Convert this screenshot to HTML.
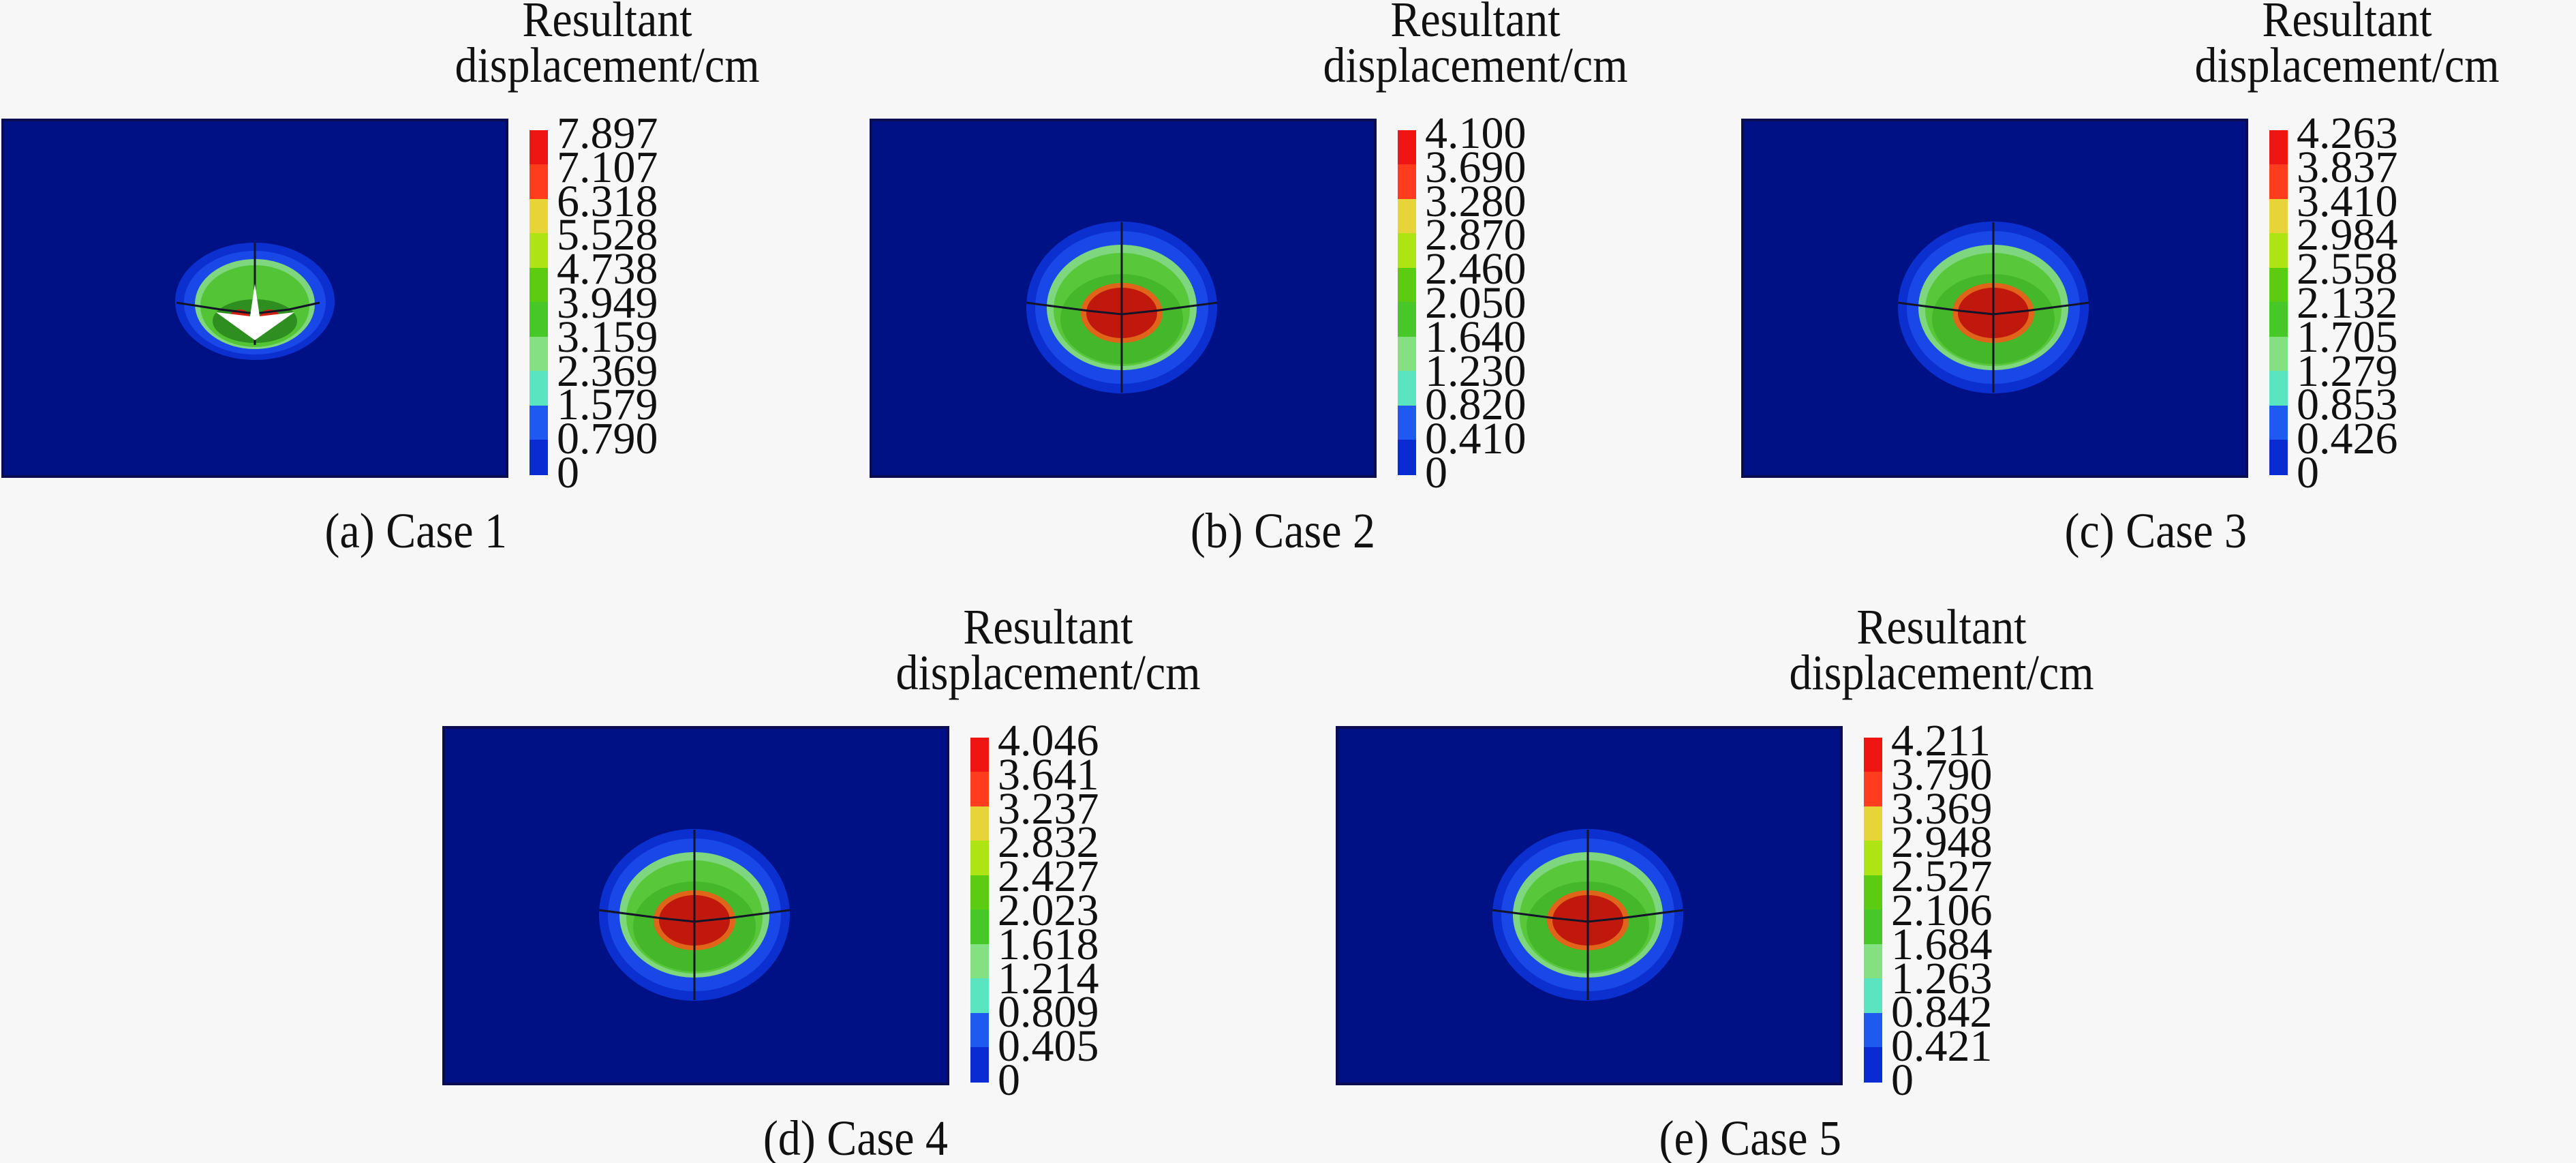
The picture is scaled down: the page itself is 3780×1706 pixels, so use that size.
<!DOCTYPE html>
<html><head><meta charset="utf-8"><style>
html,body{margin:0;padding:0;background:#f7f7f7;}
svg{display:block;}
text{font-family:"Liberation Serif","DejaVu Serif",serif;fill:#111;}
</style></head><body>
<svg width="3780" height="1706" viewBox="0 0 3780 1706" xmlns="http://www.w3.org/2000/svg">
<rect width="3780" height="1706" fill="#f7f7f7"/>
<defs>
<g id="cbar">
<rect x="773" y="15" width="27" height="51" fill="#ee1512"/>
<rect x="773" y="65" width="27" height="51" fill="#ff3c1e"/>
<rect x="773" y="116" width="27" height="51" fill="#e6d438"/>
<rect x="773" y="166" width="27" height="51" fill="#aee414"/>
<rect x="773" y="217" width="27" height="51" fill="#5ccc12"/>
<rect x="773" y="267" width="27" height="51" fill="#48c828"/>
<rect x="773" y="318" width="27" height="51" fill="#84e080"/>
<rect x="773" y="368" width="27" height="51" fill="#5ae4c0"/>
<rect x="773" y="419" width="27" height="51" fill="#1e5af0"/>
<rect x="773" y="469" width="27" height="52" fill="#0a2ad2"/>
</g>
<g id="title">
<text transform="translate(887,-123) scale(1,1.1)" font-size="66" text-anchor="middle">Resultant</text>
<text transform="translate(887,-56) scale(1,1.1)" font-size="66" text-anchor="middle">displacement/cm</text>
</g>
<g id="blob">
<rect x="0" y="0" width="740" height="523" fill="#001185" stroke="#0c0c50" stroke-width="4"/>
<ellipse cx="368" cy="275" rx="140" ry="126" fill="#0c30d0"/>
<ellipse cx="368" cy="275" rx="127" ry="112" fill="#1a48e8"/>
<ellipse cx="368" cy="275" rx="110" ry="92" fill="#7ed67e"/>
<ellipse cx="368" cy="278" rx="100" ry="83" fill="#58c83a"/>
<ellipse cx="368" cy="292" rx="90" ry="66" fill="#44b82a"/>
<ellipse cx="368" cy="283" rx="60" ry="44" fill="#e0641a"/>
<ellipse cx="368" cy="283" rx="52" ry="37" fill="#c0180c"/>
<line x1="368" y1="150" x2="368" y2="400" stroke="#141428" stroke-width="3"/>
<polyline points="228,268 320,280 368,285 416,280 508,268" fill="none" stroke="#141428" stroke-width="3"/>
</g>
</defs>

<!-- (a) -->
<g transform="translate(4,176)">
<rect x="0" y="0" width="740" height="523" fill="#001185" stroke="#0c0c50" stroke-width="4"/>
<ellipse cx="370" cy="266" rx="117" ry="86" fill="#0c30d0"/>
<ellipse cx="370" cy="268" rx="104" ry="76" fill="#1a48e8"/>
<ellipse cx="370" cy="270" rx="88" ry="66" fill="#7ed67e"/>
<ellipse cx="370" cy="273" rx="80" ry="60" fill="#52c436"/>
<ellipse cx="370" cy="295" rx="62" ry="32" fill="#2e8e20"/>
<ellipse cx="348" cy="288" rx="14" ry="10" fill="#d02010"/>
<ellipse cx="392" cy="288" rx="14" ry="10" fill="#d02010"/>
<line x1="370" y1="180" x2="370" y2="330" stroke="#141428" stroke-width="3"/>
<polyline points="255,268 320,278 370,284 420,278 465,268" fill="none" stroke="#141428" stroke-width="3"/>
<polygon points="370,240 377,288 428,282 370,323 313,282 363,288" fill="#ffffff"/>
<use href="#cbar"/><use href="#title"/>
<g font-size="66">
<text x="813" y="41">7.897</text><text x="813" y="91">7.107</text><text x="813" y="141">6.318</text><text x="813" y="190">5.528</text><text x="813" y="240">4.738</text><text x="813" y="290">3.949</text><text x="813" y="340">3.159</text><text x="813" y="390">2.369</text><text x="813" y="439">1.579</text><text x="813" y="489">0.790</text><text x="813" y="539">0</text>
</g>
<text transform="translate(740,627) scale(1,1.1)" font-size="66" text-anchor="end">(a) Case 1</text>
</g>

<!-- (b) -->
<g transform="translate(1278,176)">
<use href="#blob"/><use href="#cbar"/><use href="#title"/>
<g font-size="66">
<text x="813" y="41">4.100</text><text x="813" y="91">3.690</text><text x="813" y="141">3.280</text><text x="813" y="190">2.870</text><text x="813" y="240">2.460</text><text x="813" y="290">2.050</text><text x="813" y="340">1.640</text><text x="813" y="390">1.230</text><text x="813" y="439">0.820</text><text x="813" y="489">0.410</text><text x="813" y="539">0</text>
</g>
<text transform="translate(740,627) scale(1,1.1)" font-size="66" text-anchor="end">(b) Case 2</text>
</g>

<!-- (c) -->
<g transform="translate(2557,176)">
<use href="#blob"/><use href="#cbar"/><use href="#title"/>
<g font-size="66">
<text x="813" y="41">4.263</text><text x="813" y="91">3.837</text><text x="813" y="141">3.410</text><text x="813" y="190">2.984</text><text x="813" y="240">2.558</text><text x="813" y="290">2.132</text><text x="813" y="340">1.705</text><text x="813" y="390">1.279</text><text x="813" y="439">0.853</text><text x="813" y="489">0.426</text><text x="813" y="539">0</text>
</g>
<text transform="translate(740,627) scale(1,1.1)" font-size="66" text-anchor="end">(c) Case 3</text>
</g>

<!-- (d) -->
<g transform="translate(651,1067)">
<use href="#blob"/><use href="#cbar"/><use href="#title"/>
<g font-size="66">
<text x="813" y="41">4.046</text><text x="813" y="91">3.641</text><text x="813" y="141">3.237</text><text x="813" y="190">2.832</text><text x="813" y="240">2.427</text><text x="813" y="290">2.023</text><text x="813" y="340">1.618</text><text x="813" y="390">1.214</text><text x="813" y="439">0.809</text><text x="813" y="489">0.405</text><text x="813" y="539">0</text>
</g>
<text transform="translate(740,627) scale(1,1.1)" font-size="66" text-anchor="end">(d) Case 4</text>
</g>

<!-- (e) -->
<g transform="translate(1962,1067)">
<use href="#blob"/><use href="#cbar"/><use href="#title"/>
<g font-size="66">
<text x="813" y="41">4.211</text><text x="813" y="91">3.790</text><text x="813" y="141">3.369</text><text x="813" y="190">2.948</text><text x="813" y="240">2.527</text><text x="813" y="290">2.106</text><text x="813" y="340">1.684</text><text x="813" y="390">1.263</text><text x="813" y="439">0.842</text><text x="813" y="489">0.421</text><text x="813" y="539">0</text>
</g>
<text transform="translate(740,627) scale(1,1.1)" font-size="66" text-anchor="end">(e) Case 5</text>
</g>
</svg>
</body></html>
